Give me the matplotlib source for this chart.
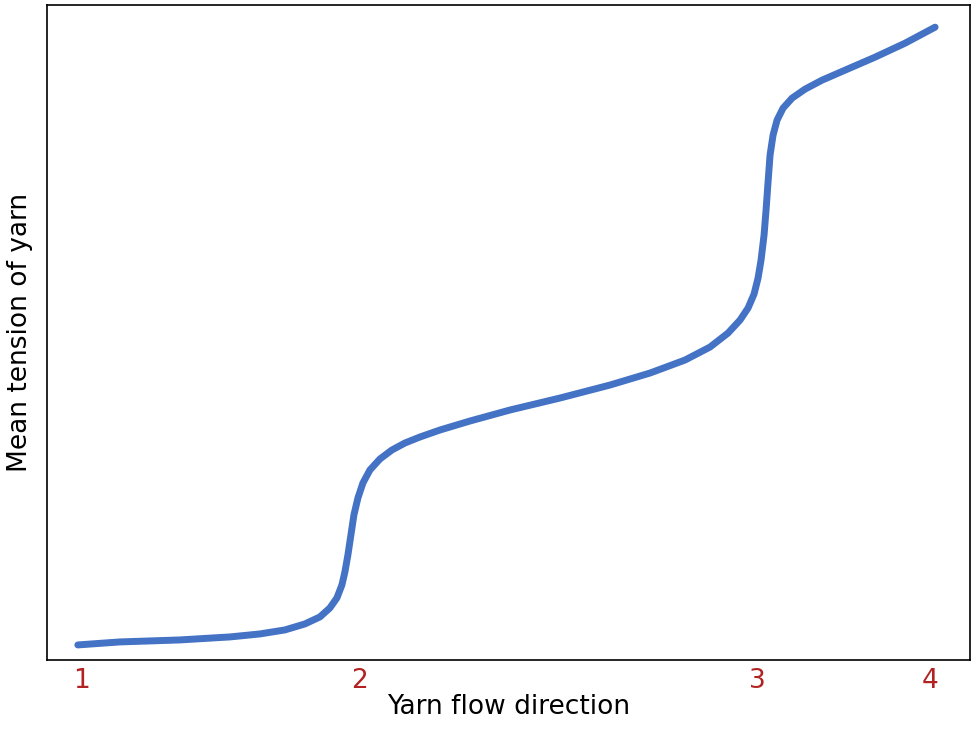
import matplotlib
matplotlib.use("Agg")
import matplotlib.pyplot as plt

positions = [1, 2, 3, 4]
position_x = [82, 360, 757, 930]
curve_x = [78, 120, 180, 230, 260, 285, 305, 320, 330, 337, 342, 345, 348, 351, 354, 358, 363, 370, 380, 392, 405, 420, 440, 470, 510, 560, 610, 650, 685, 710, 728, 740, 748, 754, 758, 761, 764, 766, 768, 770, 773, 777, 783, 792, 805, 822, 845, 875, 905, 935]
curve_y = [15, 18, 20, 23, 26, 30, 36, 43, 52, 62, 75, 88, 105, 125, 145, 162, 177, 190, 201, 210, 217, 223, 230, 239, 250, 262, 275, 287, 300, 313, 327, 340, 352, 366, 382, 400, 425, 450, 478, 505, 525, 540, 552, 562, 571, 580, 590, 603, 617, 633]

fig = plt.figure(figsize=(9.75, 7.39), dpi=100)
ax = fig.add_axes([0.048, 0.107, 0.947, 0.886])
ax.plot(curve_x, curve_y, color="#4472c4", lw=5, solid_capstyle="round", solid_joinstyle="round")
ax.set_xlim(47, 970)
ax.set_ylim(0, 655)
ax.set_xticks(position_x)
ax.set_xticklabels([str(p) for p in positions], color="#b22222", fontsize=19)
ax.tick_params(axis="x", length=0, pad=6)
ax.set_yticks([])
ax.set_xlabel("Yarn flow direction", fontsize=19, labelpad=0)
ax.set_ylabel("Mean tension of yarn", fontsize=19, labelpad=10)
for s in ax.spines.values():
    s.set_linewidth(1.2)
fig.savefig("out.png", dpi=100)
